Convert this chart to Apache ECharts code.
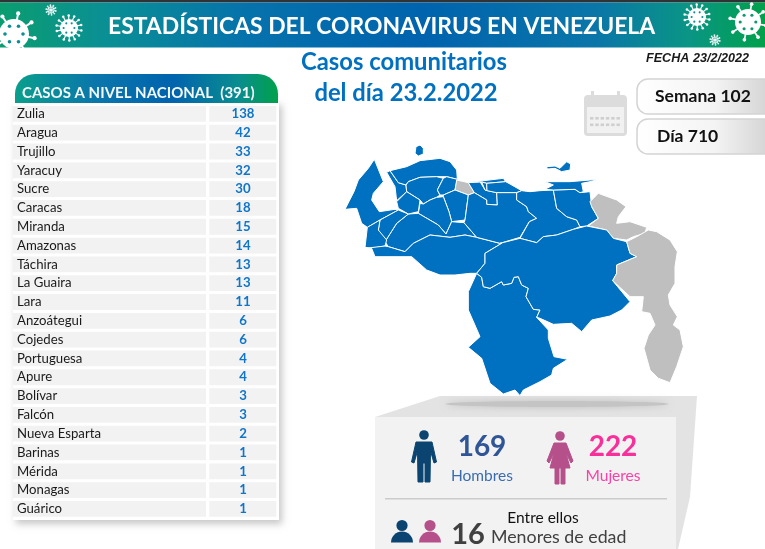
<!DOCTYPE html>
<html>
	<head>
		<meta charset="UTF-8">
		<title>Estadísticas del coronavirus en Venezuela</title>
		<style>
			html, body { margin: 0; padding: 0; background: #fff; }
			#main { width: 765px; height: 549px; }
		</style>
	</head>
	<body>
		<div id="main"></div>
		<script src="https://cdn.jsdelivr.net/npm/echarts@6/dist/echarts.min.js"></script>
		<script>
			var states = ['Zulia', 'Aragua', 'Trujillo', 'Yaracuy', 'Sucre', 'Caracas', 'Miranda', 'Amazonas', 'Táchira', 'La Guaira', 'Lara',
				'Anzoátegui', 'Cojedes', 'Portuguesa', 'Apure', 'Bolívar', 'Falcón', 'Nueva Esparta', 'Barinas', 'Mérida', 'Monagas', 'Guárico'];
			var cases = [138, 42, 33, 32, 30, 18, 15, 14, 13, 13, 11, 6, 6, 4, 4, 3, 3, 2, 1, 1, 1, 1];
			var noCases = ['Carabobo', 'Delta Amacuro', 'Guayana Esequiba'];
			var hombres = 169;
			var mujeres = 222;
			var menores = 16;
			var semana = 102;
			var dia = 710;

			var FONT = 'Lato';

			// outline helpers: north part traced at 3x from (340,140), south part from (440,230)
			function n(pts) {
				return pts.map(function (p) { return [340 + p[0] / 3, 140 + p[1] / 3]; });
			}
			function s(pts) {
				return pts.map(function (p) { return [440 + p[0] / 3, 230 + p[1] / 3]; });
			}

			var borderSouth = [[185, 40], [135, 70], [135, 100], [110, 130]];
			var borderAmaBol = [[125, 142], [130, 170], [150, 175], [185, 155], [190, 165], [215, 160], [222, 142], [235, 140], [245, 165], [265, 175], [258, 200], [280, 238], [300, 240], [290, 262]];

			var stateShapes = {
				'Zulia': [
					n([[103, 58], [85, 85], [55, 120], [42, 155], [15, 208], [50, 205], [65, 250], [82, 262], [120, 240], [175, 210], [165, 208], [118, 215], [95, 180], [100, 160], [130, 125]]),
					n([[140, 97], [150, 92], [175, 128], [198, 135], [200, 155], [170, 182], [165, 140]])
				],
				'Falcón': [
					n([[150, 92], [200, 80], [240, 62], [300, 55], [330, 65], [350, 90], [352, 118], [320, 110], [290, 110], [240, 112], [205, 125], [198, 135], [175, 128]]),
					n([[225, 40], [228, 20], [240, 15], [250, 25], [250, 42], [235, 48]])
				],
				'Lara': [n([[198, 135], [205, 125], [240, 112], [290, 110], [310, 115], [292, 150], [300, 165], [290, 172], [270, 180], [250, 192], [240, 180], [200, 155]])],
				'Yaracuy': [n([[320, 110], [352, 118], [345, 150], [310, 165], [300, 165], [292, 150], [310, 115]])],
				'Carabobo': [n([[350, 120], [385, 128], [403, 158], [385, 165], [345, 150]])],
				'Aragua': [n([[385, 128], [420, 125], [435, 150], [470, 158], [472, 195], [440, 193], [440, 180], [415, 165], [403, 158]])],
				'La Guaira': [n([[390, 127], [490, 115], [497, 125], [440, 130], [425, 126]])],
				'Caracas': [n([[425, 126], [440, 130], [441, 152], [435, 150]])],
				'Miranda': [n([[440, 130], [497, 125], [510, 132], [545, 152], [530, 158], [470, 158], [441, 152]])],
				'Cojedes': [n([[310, 165], [345, 150], [385, 165], [375, 240], [335, 245], [327, 215], [310, 170]])],
				'Portuguesa': [n([[250, 192], [270, 180], [290, 172], [310, 170], [327, 215], [335, 245], [318, 282], [295, 255], [235, 220], [240, 190]])],
				'Barinas': [n([[205, 222], [235, 220], [295, 255], [318, 282], [335, 245], [372, 248], [410, 292], [375, 285], [330, 292], [270, 285], [220, 310], [195, 335], [145, 320], [135, 305], [170, 250]])],
				'Trujillo': [n([[170, 185], [200, 155], [240, 180], [235, 215], [205, 222], [175, 205]])],
				'Mérida': [n([[175, 210], [205, 222], [170, 250], [135, 305], [115, 270], [120, 240]])],
				'Táchira': [n([[82, 262], [120, 240], [115, 270], [140, 300], [135, 318], [95, 325], [75, 322]])],
				'Apure': [n([[75, 325], [135, 318], [145, 320], [195, 335], [220, 310], [270, 285], [330, 292], [375, 285], [410, 292], [480, 310]]).concat(
					s(borderSouth), s([[90, 130], [45, 135], [0, 135]]), n([[260, 390], [215, 350], [105, 350], [95, 325]]))],
				'Guárico': [n([[385, 165], [403, 158], [415, 165], [440, 180], [440, 193], [472, 195], [470, 158], [530, 158], [530, 180], [560, 200], [565, 215], [590, 235], [568, 245], [540, 292], [480, 310], [410, 292], [372, 248], [375, 240]])],
				'Anzoátegui': [n([[530, 158], [545, 152], [570, 155], [600, 152], [640, 150], [650, 205], [680, 230], [710, 240], [720, 260], [700, 268], [650, 285], [610, 290], [590, 308], [540, 295], [568, 245], [590, 235], [565, 215], [560, 200], [530, 180]])],
				'Monagas': [n([[640, 150], [705, 148], [720, 158], [750, 155], [755, 200], [775, 235], [740, 258], [720, 260], [710, 240], [680, 230], [650, 205]])],
				'Sucre': [n([[615, 125], [690, 125], [775, 118], [750, 125], [725, 130], [730, 155], [720, 158], [705, 148], [640, 150], [615, 148], [640, 135]])],
				'Nueva Esparta': [n([[620, 80], [645, 78], [660, 85], [680, 65], [692, 72], [690, 90], [665, 95], [645, 85], [622, 87]])],
				'Delta Amacuro': [n([[750, 185], [775, 160], [830, 180], [858, 200], [835, 230], [830, 250], [870, 245], [920, 262], [915, 280], [880, 290], [860, 300], [820, 295], [800, 270], [745, 258], [775, 235], [755, 200]])],
				'Amazonas': [s([[110, 130]].concat(borderAmaBol, [[325, 300], [325, 325], [342, 380], [383, 388], [340, 415], [335, 435], [300, 455], [250, 480], [240, 497], [225, 480], [190, 492], [150, 460], [125, 385], [85, 352], [120, 320], [85, 240], [85, 185]]))],
				'Bolívar': [n([[480, 310], [540, 295], [590, 308], [610, 290], [650, 285], [700, 268], [740, 258], [800, 270], [820, 295]]).concat(
					s([[560, 35], [570, 70], [590, 80], [530, 105], [530, 130], [518, 152], [570, 215], [545, 240], [510, 258], [455, 270], [425, 305], [395, 280], [340, 283], [300, 265]]),
					s(borderAmaBol.slice().reverse()), s([[110, 130], [135, 100], [135, 70], [185, 40]]))],
				'Guayana Esequiba': [s([[590, 20], [625, 0], [650, 5], [690, 30], [712, 65], [705, 110], [705, 160], [685, 195], [690, 225], [712, 260], [700, 285], [720, 300], [730, 350], [710, 410], [690, 458], [655, 445], [630, 420], [612, 355], [625, 315], [645, 285], [630, 250], [605, 245], [610, 200], [570, 200], [518, 152], [530, 130], [530, 105], [590, 80], [570, 70], [560, 35]])]
			};

			var features = Object.keys(stateShapes).map(function (name) {
				return {
					type: 'Feature',
					properties: { name: name },
					geometry: {
						type: 'MultiPolygon',
						coordinates: stateShapes[name].map(function (ring) {
							return [ring.map(function (p) { return [p[0], -p[1]]; })];
						})
					}
				};
			});
			echarts.registerMap('venezuela', { type: 'FeatureCollection', features: features });

			function gradient(stops) {
				return new echarts.graphic.LinearGradient(0, 0, 1, 0, stops);
			}

			function label(text, x, y, size, color, opts) {
				opts = opts || {};
				return {
					type: 'text',
					x: x,
					y: y,
					z: 20,
					style: {
						text: text,
						fill: color,
						font: (opts.style || '') + ' ' + (opts.weight || 'normal') + ' ' + size + 'px ' + (opts.family || FONT),
						align: opts.align || 'left',
						verticalAlign: 'middle'
					}
				};
			}

			function virus(cx, cy, r, spikes, fill, dot, z) {
				var out = [];
				for (var i = 0; i < spikes; i++) {
					var a = i / spikes * Math.PI * 2 + 0.2;
					var ex = cx + Math.cos(a) * r * 1.4;
					var ey = cy + Math.sin(a) * r * 1.4;
					out.push({ type: 'line', z: z, shape: { x1: cx, y1: cy, x2: ex, y2: ey }, style: { stroke: fill, lineWidth: Math.max(1, r * 0.13) } });
					out.push({ type: 'circle', z: z, shape: { cx: ex, cy: ey, r: Math.max(0.9, r * 0.14) }, style: { fill: fill } });
				}
				out.push({ type: 'circle', z: z, shape: { cx: cx, cy: cy, r: r }, style: { fill: fill } });
				for (var j = 0; j < 6; j++) {
					var b = j / 6 * Math.PI * 2;
					out.push({ type: 'circle', z: z + 1, shape: { cx: cx + Math.cos(b) * r * 0.6, cy: cy + Math.sin(b) * r * 0.6, r: Math.max(0.6, r * 0.12) }, style: { fill: dot } });
				}
				return out;
			}

			function man(cx, top, color) {
				return [
					{ type: 'circle', z: 15, shape: { cx: cx, cy: top + 5, r: 4.8 }, style: { fill: color } },
					{ type: 'polygon', z: 15, shape: { points: [[cx - 8, top + 12], [cx + 8, top + 12], [cx + 12.5, top + 32], [cx + 10, top + 33], [cx + 6.5, top + 21], [cx + 6, top + 52], [cx + 1, top + 52], [cx + 1, top + 33], [cx - 1, top + 33], [cx - 1, top + 52], [cx - 6, top + 52], [cx - 6.5, top + 21], [cx - 10, top + 33], [cx - 12.5, top + 32]] }, style: { fill: color, stroke: color, lineWidth: 1, lineJoin: 'round' } }
				];
			}

			function woman(cx, top, color) {
				return [
					{ type: 'circle', z: 15, shape: { cx: cx, cy: top + 5, r: 4.8 }, style: { fill: color } },
					{ type: 'polygon', z: 15, shape: { points: [[cx - 6, top + 12], [cx + 6, top + 12], [cx + 13, top + 30], [cx + 11, top + 32], [cx + 6, top + 22], [cx + 10, top + 37], [cx + 5, top + 37], [cx + 5, top + 53], [cx + 1, top + 53], [cx + 1, top + 37], [cx - 1, top + 37], [cx - 1, top + 53], [cx - 5, top + 53], [cx - 5, top + 37], [cx - 10, top + 37], [cx - 6, top + 22], [cx - 11, top + 32], [cx - 13, top + 30]] }, style: { fill: color, stroke: color, lineWidth: 1, lineJoin: 'round' } }
				];
			}

			function bust(cx, color) {
				return [
					{ type: 'circle', z: 15, shape: { cx: cx, cy: 525.5, r: 5.6 }, style: { fill: color } },
					{ type: 'sector', z: 15, shape: { cx: cx, cy: 542.5, r: 11, r0: 0, startAngle: Math.PI, endAngle: Math.PI * 2 }, style: { fill: color } }
				];
			}

			function calendar() {
				var gray = '#dcdcdc';
				var out = [
					{ type: 'rect', z: 10, shape: { x: 584, y: 95, width: 43, height: 41, r: 4 }, style: { fill: gray } },
					{ type: 'rect', z: 11, shape: { x: 587, y: 107, width: 37, height: 26 }, style: { fill: '#f1f1f1' } },
					{ type: 'rect', z: 11, shape: { x: 591, y: 91, width: 3, height: 9 }, style: { fill: gray } },
					{ type: 'rect', z: 11, shape: { x: 617, y: 91, width: 3, height: 9 }, style: { fill: gray } }
				];
				for (var r = 0; r < 2; r++) {
					for (var c = 0; c < 6; c++) {
						out.push({ type: 'rect', z: 12, shape: { x: 590 + c * 5.3, y: 117 + r * 6.5, width: 3.4, height: 2.6 }, style: { fill: '#cfcfcf' } });
					}
				}
				return out;
			}

			var headerFill = gradient([
				{ offset: 0, color: '#0a9d6f' },
				{ offset: 0.14, color: '#0a8f95' },
				{ offset: 0.32, color: '#0672ab' },
				{ offset: 0.55, color: '#0063ae' },
				{ offset: 0.78, color: '#0a76a8' },
				{ offset: 0.9, color: '#0a9585' },
				{ offset: 1, color: '#00a14b' }
			]);
			var panelFill = gradient([
				{ offset: 0, color: '#0a9f8c' },
				{ offset: 0.3, color: '#0a77ab' },
				{ offset: 0.6, color: '#0063ae' },
				{ offset: 0.85, color: '#0a8d8f' },
				{ offset: 1, color: '#00a14b' }
			]);
			var pillFill = gradient([
				{ offset: 0, color: '#ffffff' },
				{ offset: 0.55, color: '#f4f4f4' },
				{ offset: 1, color: '#cfcfcf' }
			]);
			var total = cases.reduce(function (a, b) { return a + b; }, 0);

			var elements = [
				{ type: 'rect', z: 1, shape: { x: 0, y: 0, width: 765, height: 2.5 }, style: { fill: '#2f3336' } },
				{ type: 'rect', z: 1, shape: { x: 0, y: 2.5, width: 765, height: 45 }, style: { fill: headerFill } },
				label('ESTADÍSTICAS DEL CORONAVIRUS EN VENEZUELA', 108, 27, 22.9, '#ffffff', { weight: 'bold' }),
				label('Casos comunitarios', 404, 62, 23.8, '#0070c0', { weight: 'bold', align: 'center' }),
				label('del día 23.2.2022', 406, 93, 23.8, '#0070c0', { weight: 'bold', align: 'center' }),
				label('FECHA 23/2/2022', 646, 59, 12.6, '#1a1a1a', { weight: 'bold', style: 'italic', family: 'Liberation Sans' }),

				// semana / dia
				{ type: 'rect', z: 5, shape: { x: 637, y: 79, width: 140, height: 35, r: 11 }, style: { fill: pillFill, stroke: '#d4d4d4', lineWidth: 1.5 } },
				{ type: 'rect', z: 5, shape: { x: 637, y: 119, width: 140, height: 35, r: 11 }, style: { fill: pillFill, stroke: '#d4d4d4', lineWidth: 1.5 } },
				label('Semana ' + semana, 655, 96, 17.5, '#111111', { weight: 'bold' }),
				label('Día ' + dia, 657, 136, 17.5, '#111111', { weight: 'bold' }),

				// cabecera de la tabla
				{ type: 'rect', z: 6, shape: { x: 13, y: 101, width: 266, height: 419 }, style: { fill: '#ffffff', shadowBlur: 7, shadowColor: 'rgba(0,0,0,0.22)', shadowOffsetX: 3, shadowOffsetY: 4 } },
				{ type: 'rect', z: 7, shape: { x: 15, y: 74, width: 263, height: 29, r: [20, 20, 0, 0] }, style: { fill: panelFill } },
				label('CASOS A NIVEL NACIONAL  (' + total + ')', 22, 93, 15, '#f4f8f8', { weight: 'bold' }),

				// panel inferior
				{ type: 'polygon', z: 2, shape: { points: [[375, 417], [440, 396], [697, 396], [690, 497], [678, 549], [375, 549]] }, style: { fill: '#e3e3e3' } },
				{ type: 'ellipse', z: 3, shape: { cx: 557, cy: 404, rx: 112, ry: 3 }, style: { fill: '#c4c4c4', shadowBlur: 7, shadowColor: '#bdbdbd' } },
				{ type: 'rect', z: 4, shape: { x: 375, y: 417, width: 301, height: 132 }, style: { fill: '#f2f2f2' } },
				label(String(hombres), 482, 447, 28, '#2f5597', { weight: 'bold', align: 'center' }),
				label('Hombres', 482, 476, 15.5, '#3a6db0', { align: 'center' }),
				label(String(mujeres), 613, 447, 28, '#f9309a', { weight: 'bold', align: 'center' }),
				label('Mujeres', 613, 476, 15.5, '#fb3fa6', { align: 'center' }),
				{ type: 'line', z: 5, shape: { x1: 385, y1: 498.7, x2: 667, y2: 498.7 }, style: { stroke: '#cccccc', lineWidth: 1.5 } },
				label('Entre ellos', 543, 518, 15.5, '#111111', { align: 'center' }),
				label(String(menores), 468, 535, 29, '#404040', { weight: 'bold', align: 'center' }),
				label('Menores de edad', 491, 537, 17.8, '#404040')
			];

			elements = elements.concat(
				virus(14, 34, 15, 8, '#ffffff', '#0a8f95', 3),
				virus(69, 28, 9, 14, '#ffffff', '#0a8f95', 3),
				virus(51, 10, 3.5, 10, '#e8f4f2', '#0a8f95', 3),
				virus(697, 17, 9, 14, '#ffffff', '#0a8f95', 3),
				virus(748, 22, 13, 8, '#ffffff', '#0a9a70', 3),
				virus(715, 40, 3.5, 10, '#e8f4f2', '#0a8f95', 3),
				calendar(),
				man(424, 430, '#0b4470'),
				woman(560, 431, '#b5508b'),
				bust(402, '#0b4470'),
				bust(430, '#b5508b')
			);

			// filas de la tabla, via el eje de categorias
			function renderRow(params, api) {
				var idx = api.value(0);
				var p = api.coord([0, idx]);
				var top = p[1] - 7.9;
				return {
					type: 'group',
					children: [
						{ type: 'rect', shape: { x: 13, y: top, width: 193, height: 15.8 }, style: { fill: '#f2f2f2' } },
						{ type: 'rect', shape: { x: 209.3, y: top, width: 67, height: 15.8 }, style: { fill: '#f2f2f2' } },
						{ type: 'text', x: 17, y: p[1], style: { text: states[idx], fill: '#1a1a1a', font: '13.2px ' + FONT, verticalAlign: 'middle' } },
						{ type: 'text', x: 243, y: p[1], style: { text: String(cases[idx]), fill: '#0f75c8', font: 'bold 13.2px ' + FONT, align: 'center', verticalAlign: 'middle' } }
					]
				};
			}

			var chart = echarts.init(document.getElementById('main'));
			chart.setOption({
				animation: false,
				backgroundColor: '#ffffff',
				graphic: { elements: elements },
				grid: { left: 13, top: 104.5, width: 266, height: 413.8, containLabel: false },
				xAxis: { type: 'value', min: 0, max: 1, show: false },
				yAxis: { type: 'category', inverse: true, data: states, show: false },
				series: [
					{
						type: 'custom',
						z: 8,
						silent: true,
						renderItem: renderRow,
						encode: { y: 0 },
						data: states.map(function (name, i) { return [i]; })
					},
					{
						type: 'map',
						map: 'venezuela',
						silent: true,
						roam: false,
						z: 8,
						aspectScale: 1,
						boundingCoords: [[345, -140], [685, -400]],
						left: 345,
						top: 140,
						width: 340,
						height: 260,
						label: { show: false },
						itemStyle: { areaColor: '#bfbfbf', borderColor: '#ffffff', borderWidth: 1 },
						emphasis: { disabled: true },
						data: states.map(function (name, i) {
							return { name: name, value: cases[i], itemStyle: { areaColor: '#0070c0' } };
						}).concat(noCases.map(function (name) {
							return { name: name, itemStyle: { areaColor: '#bfbfbf' } };
						}))
					}
				]
			});
		</script>
	</body>
</html>
